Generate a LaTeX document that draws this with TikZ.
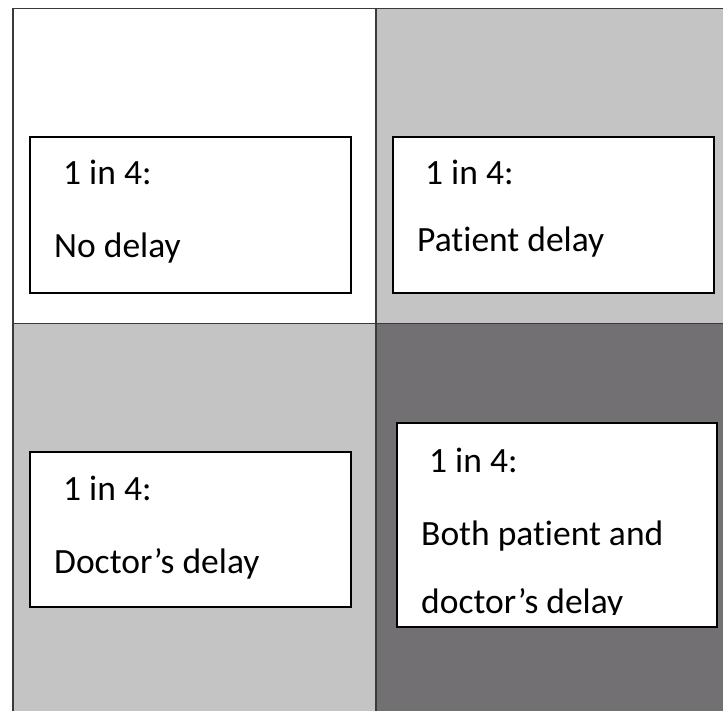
\documentclass[tikz,border=0pt]{standalone}
\usepackage{fontspec}
\setmainfont[Ligatures=NoCommon]{Carlito}
\usetikzlibrary{positioning}
\definecolor{cellgrey}{HTML}{C4C4C4}
\definecolor{celldark}{HTML}{727073}
\definecolor{gridline}{HTML}{3A3A3A}

\begin{document}
\begin{tikzpicture}[
  x=1pt, y=-1pt,
  cell/.style={draw=gridline, line width=1.5pt, inner sep=0pt, anchor=north west, minimum width=363pt, minimum height=315pt},
  box/.style={draw=black, line width=2pt, fill=white, inner sep=0pt, anchor=north west},
  txt/.style={anchor=base west, inner sep=0pt, font=\fontsize{35.5}{42}\selectfont}
]
\clip (0,0) rectangle (723,711);
\fill[white] (0,0) rectangle (723,711);

% quadrants
\node[cell, fill=white] (nodelay) at (12,8) {};
\node[cell, fill=cellgrey, minimum width=370pt] (patient) at (375,8) {};
\node[cell, fill=cellgrey, minimum height=400pt] (doctor) at (12,323) {};
\node[cell, fill=celldark, minimum width=370pt, minimum height=400pt] (both) at (375,323) {};

% text boxes
\node[box, minimum width=321pt, minimum height=156pt] (b1) at (29,136) {};
\node[box, minimum width=321pt, minimum height=156pt] (b2) at (392,136) {};
\node[box, minimum width=321pt, minimum height=155pt] (b3) at (29,451) {};
\node[box, minimum width=320pt, minimum height=204pt] (b4) at (396,422) {};

\node[txt] (b1a) at ([shift={(34,49)}]b1.north west) {1 in 4:};
\node[txt] (b1b) at ([shift={(25,122)}]b1.north west) {No delay};
\node[txt] (b2a) at ([shift={(33,49)}]b2.north west) {1 in 4:};
\node[txt] (b2b) at ([shift={(25,116)}]b2.north west) {Patient delay};
\node[txt] (b3a) at ([shift={(34,49)}]b3.north west) {1 in 4:};
\node[txt] (b3b) at ([shift={(25,122)}]b3.north west) {Doctor’s delay};
\node[txt] (b4a) at ([shift={(33,50)}]b4.north west) {1 in 4:};
\node[txt] (b4b) at ([shift={(25,123)}]b4.north west) {Both patient and};
\begin{scope}
  \clip (b4.north west) rectangle ([yshift=-192pt]b4.north east);
  \node[txt] (b4c) at ([shift={(25,191)}]b4.north west) {doctor’s delay};
\end{scope}
\end{tikzpicture}
\end{document}
